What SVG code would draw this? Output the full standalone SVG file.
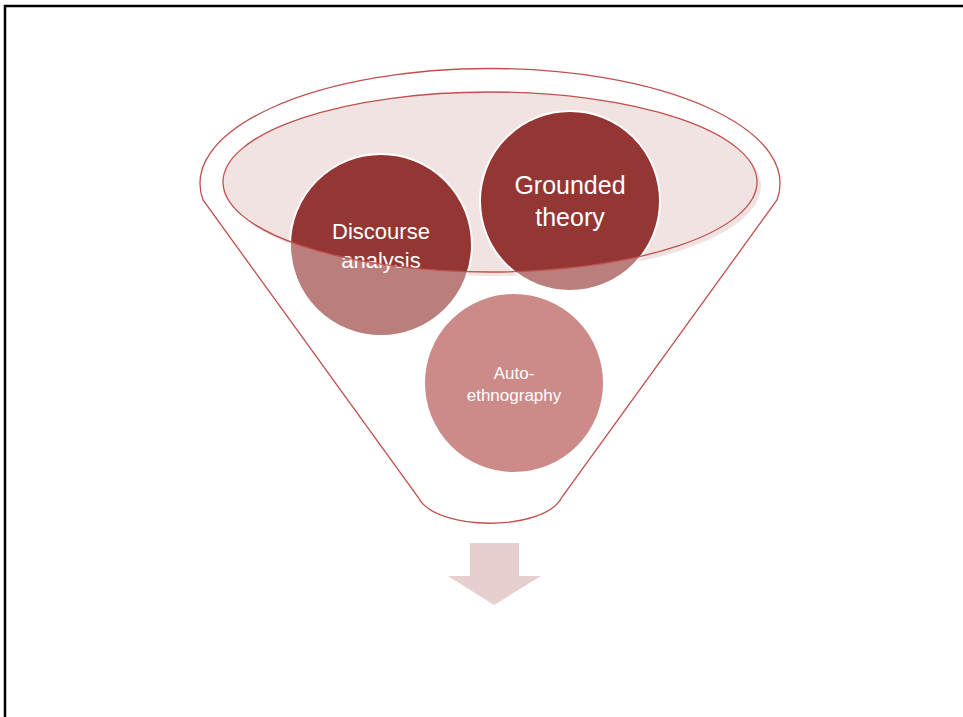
<svg xmlns="http://www.w3.org/2000/svg" width="963" height="717" viewBox="0 0 963 717">
<style>
.lbl{font-family:"Liberation Sans","Noto Sans",Arial,sans-serif;fill:#ffffff;text-anchor:middle}
.edge{fill:none;stroke:#c0504d;stroke-width:1.3}
.circ{stroke:#ffffff;stroke-width:2}
</style>
<rect x="0" y="0" width="963" height="717" fill="#ffffff"/>
<path d="M5 717 V6 H963" fill="none" stroke="#000000" stroke-width="2.5"/>
<g id="funnel">
<path id="funnel-body" d="M203 200 A290 115 0 1 1 777 200 L562 497 C545 532 435 532 418 497 Z" fill="#ffffff"/>
<ellipse cx="494" cy="186" rx="267" ry="90" fill="#e6d2d2"/>
<ellipse id="opening" cx="490" cy="182" rx="267" ry="90" fill="#f2e3e3"/>
</g>
<g id="discourse-analysis">
<circle class="circ" cx="381" cy="245" r="91" fill="#943634"/>
<text class="lbl" x="381" y="239" font-size="22">Discourse</text>
<text class="lbl" x="381" y="268" font-size="22">analysis</text>
</g>
<g id="grounded-theory">
<circle class="circ" cx="570" cy="201" r="90" fill="#943634"/>
<text class="lbl" x="570" y="194" font-size="25">Grounded</text>
<text class="lbl" x="570" y="226" font-size="25">theory</text>
</g>
<g id="auto-ethnography">
<circle class="circ" cx="514" cy="383" r="90" fill="#af4846"/>
<text class="lbl" x="514" y="379" font-size="17">Auto-</text>
<text class="lbl" x="514" y="401" font-size="17">ethnography</text>
</g>
<g id="funnel-overlay">
<path d="M203 200 A290 115 0 1 1 777 200 L562 497 C545 532 435 532 418 497 Z M222.5 182 A267 90 0 1 0 756.5 182 A267 90 0 1 0 222.5 182 Z" fill="#ffffff" fill-opacity="0.36" fill-rule="evenodd"/>
<path class="edge" d="M203 200 A290 115 0 1 1 777 200 L562 497 C545 532 435 532 418 497 Z"/>
<ellipse class="edge" cx="490" cy="182" rx="267" ry="90"/>
</g>
<g id="connectors">
<path id="arrow" d="M470 543 H519 V576 H541 L494 605 L448 576 H470 Z" fill="#e8cfcf"/>
</g>
</svg>
